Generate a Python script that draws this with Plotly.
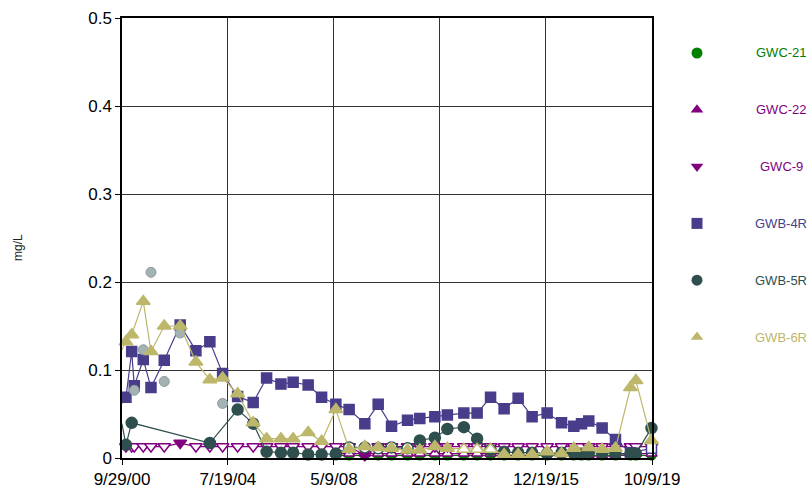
import plotly.graph_objects as go

# ---------------- data ----------------
dates = [
    "2000-09-27", "2000-11-20", "2001-02-03", "2001-03-09", "2001-07-05", "2001-10-14",
    "2002-04-06", "2002-11-01", "2003-05-26", "2003-11-25", "2004-05-10", "2004-11-23",
    "2005-06-15", "2005-12-08", "2006-06-14", "2006-11-21", "2007-06-06", "2007-11-29",
    "2008-06-03", "2008-11-24", "2009-06-18", "2009-12-10", "2010-06-03", "2010-12-30",
    "2011-06-09", "2011-12-23", "2012-06-04", "2013-01-06", "2013-06-29", "2013-12-22",
    "2014-06-18", "2014-12-19", "2015-06-20", "2016-01-03", "2016-07-10", "2016-12-18",
    "2017-03-29", "2017-07-02", "2017-12-24", "2018-06-17", "2018-12-31", "2019-03-12",
    "2019-10-02",
]
N = None

gwc21 = [N] * 18 + [0.003] * 25
gwc21_nd = [False] * 43

gwc22 = [N] * 18 + [0.005, 0.005, 0.005, 0.005, 0.005, 0.005, 0.005, 0.005, 0.005, 0.005,
                    0.005, 0.005, 0.005, 0.002, 0.005, 0.005, 0.005, 0.005, 0.005, 0.002,
                    0.002, 0.002, 0.005, 0.005, 0.005]
gwc22_nd = [False] * 18 + [v == 0.005 for v in gwc22[18:]]

gwc9 = [0.013] * 43
gwc9[7] = 0.017
gwc9[20] = 0.003
gwc9_nd = [not (i in (7, 20)) for i in range(43)]

gwb4r = [0.062, 0.069, 0.121, 0.082, 0.112, 0.080, 0.111, 0.151, 0.122, 0.132, 0.096, 0.070,
         0.063, 0.091, 0.084, 0.086, 0.083, 0.069, 0.061, 0.055, 0.039, 0.061, 0.036, 0.043,
         0.045, 0.047, 0.049, 0.051, 0.051, 0.069, 0.056, 0.068, 0.047, 0.051, 0.040, 0.036,
         0.039, 0.042, 0.034, 0.021, 0.006, N, 0.011]
gwb4r_nd = [False] * 42 + [True]

gwb5r = [0.039, 0.015, 0.040, N, N, N, N, N, N, 0.017, N, 0.055,
         0.039, 0.007, 0.006, 0.006, 0.004, 0.004, 0.005, 0.012, 0.012, 0.011, 0.012, 0.011,
         0.020, 0.023, 0.033, 0.035, 0.022, 0.009, 0.007, 0.006, 0.006, 0.005, 0.006, 0.006,
         0.005, 0.006, 0.006, 0.005, 0.005, 0.005, 0.034]
gwb5r_nd = [False] * 19 + [True, True, True, True, True] + [False] * 19
gwb5r_flagged = [N, N, N, 0.077, 0.123, 0.211, 0.087, 0.142, N, N, 0.062] + [N] * 32

gwb6r = [0.123, 0.132, 0.140, N, 0.178, 0.121, 0.150, 0.150, 0.109, 0.089, 0.091, 0.073,
         0.040, 0.022, 0.022, 0.022, 0.029, 0.019, 0.055, 0.010, 0.013, 0.012, 0.011, 0.009,
         0.009, 0.013, 0.011, 0.010, 0.010, 0.010, 0.004, 0.004, 0.004, 0.007, 0.005, 0.011,
         N, 0.012, 0.010, 0.011, 0.080, 0.088, 0.020]
gwb6r_nd = [False] * 27 + [True, True, True] + [False] * 13

tick_dates = ["2000-09-29", "2004-07-19", "2008-05-09", "2012-02-28", "2015-12-19", "2019-10-09"]
tick_labels = ["9/29/00", "7/19/04", "5/9/08", "2/28/12", "12/19/15", "10/9/19"]

legend_names = ["GWC-21", "GWC-22", "GWC-9", "GWB-4R", "GWB-5R", "GWB-6R"]
legend_colors = ["#008000", "#800080", "#800080", "#483D8B", "#2F4F4F", "#BDB76B"]
legend_symbols = ["circle", "triangle-up", "triangle-down", "square", "circle", "triangle-up"]

# ---------------- figure ----------------
FONT = "Liberation Sans, Arial, sans-serif"
W, H = 812, 490
ML, MR, MT, MB = 122, 0, 18, 32
PLOT_RIGHT = 652
dom = (PLOT_RIGHT - ML) / (W - ML - MR)

fig = go.Figure()


def add_series(y, nd, color, symbol, size, name, line=True):
    fills = ["white" if f else color for f in nd]
    fig.add_trace(go.Scatter(
        x=dates, y=y, name=name, mode="lines+markers" if line else "markers",
        connectgaps=True, cliponaxis=False, showlegend=False,
        line=dict(color=color, width=1.2),
        marker=dict(symbol=symbol, size=size, color=fills,
                    line=dict(color=color, width=1.5)),
    ))


add_series(gwc21, gwc21_nd, "#008000", "circle", 9, "GWC-21")
add_series(gwc22, gwc22_nd, "#800080", "triangle-up", 10, "GWC-22")
add_series(gwc9, gwc9_nd, "#800080", "triangle-down", 11, "GWC-9")
add_series(gwb4r, gwb4r_nd, "#483D8B", "square", 10, "GWB-4R")
fig.add_trace(go.Scatter(
    x=dates, y=gwb5r_flagged, mode="markers", cliponaxis=False, showlegend=False,
    marker=dict(symbol="circle", size=10, color="#A3B2B2",
                line=dict(color="#8A9A9A", width=1)),
))
add_series(gwb5r, gwb5r_nd, "#2F4F4F", "circle", 11, "GWB-5R")
add_series(gwb6r, gwb6r_nd, "#BDB76B", "triangle-up", 12, "GWB-6R")

# legend (custom, on a hidden axis pair to the right of the plot)
idx = list(range(len(legend_names)))
fig.add_trace(go.Scatter(
    x=[45] * len(idx), y=idx, xaxis="x2", yaxis="y2", mode="markers",
    showlegend=False, cliponaxis=False,
    marker=dict(symbol=legend_symbols, size=11, color=legend_colors),
))
annotations = []
for i, (nm, c) in enumerate(zip(legend_names, legend_colors)):
    annotations.append(dict(
        x=129, y=i, xref="x2", yref="y2", text=nm, showarrow=False,
        xanchor="center", yanchor="middle", font=dict(family=FONT, size=13, color=c),
    ))
annotations.append(dict(
    x=(18 - ML) / (W - ML - MR), y=(458 - 248) / 440, xref="paper", yref="paper",
    text="mg/L", textangle=-90, showarrow=False, xanchor="center", yanchor="middle",
    font=dict(family=FONT, size=12, color="#222222"),
))

axis_common = dict(
    showgrid=True, gridcolor="#333333", gridwidth=1,
    showline=True, linecolor="#000000", linewidth=1.5, mirror=True,
    ticks="outside", ticklen=5, tickcolor="#000000", tickwidth=1,
    tickfont=dict(family=FONT, size=17, color="#000000"), zeroline=False,
    automargin=False,
)

fig.update_layout(
    width=W, height=H, autosize=False,
    margin=dict(l=ML, r=MR, t=MT, b=MB, pad=0, autoexpand=False),
    paper_bgcolor="white", plot_bgcolor="white",
    showlegend=False,
    xaxis=dict(type="date", domain=[0, dom], range=[tick_dates[0], tick_dates[-1]],
               tickmode="array", tickvals=tick_dates, ticktext=tick_labels, **axis_common),
    yaxis=dict(range=[0, 0.5], tickmode="linear", tick0=0, dtick=0.1, **axis_common),
    xaxis2=dict(domain=[dom, 1], range=[0, W - PLOT_RIGHT], visible=False, anchor="y2",
                automargin=False),
    yaxis2=dict(domain=[0, 1], range=[7.13, -0.616], visible=False, anchor="x2",
                automargin=False),
    annotations=annotations,
)

fig.write_html(
    "out.html",
    config={"responsive": False, "displayModeBar": False},
    post_script="document.body.style.margin='0';document.body.style.overflow='hidden';",
)
